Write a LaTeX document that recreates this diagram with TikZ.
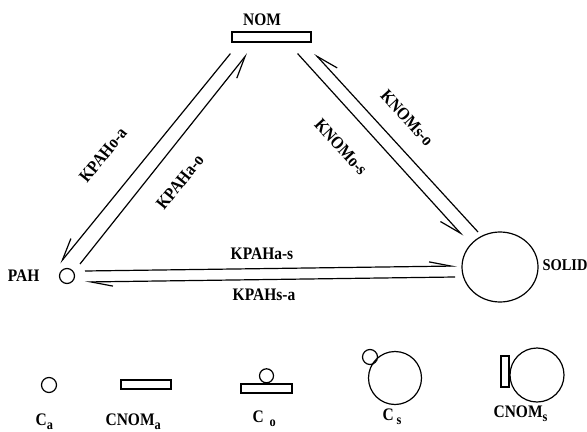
\documentclass[tikz,border=0pt]{standalone}
\usepackage{fontspec}
\setmainfont{Liberation Serif}
\newfontfamily\lblfont[FakeStretch=0.88]{Liberation Serif}
\usetikzlibrary{arrows.meta,shapes.geometric}

\newcommand\lsub[1]{\raisebox{-0.55ex}{\fontsize{7}{8}\selectfont #1}}

\begin{document}
\begin{tikzpicture}[x=0.5pt,y=-0.5pt,line width=0.6pt,
  lbl/.style={font=\lblfont\bfseries\fontsize{8.8}{10}\selectfont,inner sep=0pt},
  ball/.style={draw,circle,inner sep=0pt,minimum size=#1},
  bar/.style 2 args={draw,rectangle,inner sep=0pt,minimum width=#1,minimum height=#2},
  hr/.style={-{Straight Barb[right,length=11pt,width=7pt]}},
  hl/.style={-{Straight Barb[left,length=11pt,width=4.5pt]}}]
\useasboundingbox (0,0) rectangle (587,432);

% compartments
\node[bar={39.5pt}{5pt}] (nom) at (271.5,37) {};
\node[lbl] (nomlbl) at (262,20) {NOM};
\node[ball=7.5pt] (pah) at (67,276) {};
\node[lbl,anchor=east] (pahlbl) at (40,276) {PAH};
\node[draw,ellipse,inner sep=0pt,minimum width=38pt,minimum height=35pt] (solid) at (500,267) {};
\node[lbl,font=\lblfont\bfseries\fontsize{8.2}{10}\selectfont,anchor=west] (solidlbl) at (542,265) {SOLID};

% exchanges
\draw[hr] ([shift={(-1,11)}]nom.south west) -- ([shift={(-7,-13)}]pah.center);
\draw[hr] ([shift={(13,-12)}]pah.center) -- ([shift={(16,11)}]nom.south west);
\draw[hr] ([shift={(-14,11)}]nom.south east) -- ([shift={(-37,-31)}]solid.center);
\draw[hr] ([shift={(-22,-35)}]solid.center) -- ([shift={(3,11)}]nom.south east);
\draw[hl] ([shift={(18,-5)}]pah.center) -- ([shift={(-43,-1)}]solid.center);
\draw[hl] ([shift={(-45,10)}]solid.center) -- ([shift={(18,6)}]pah.center);

\node[lbl,rotate=51] (kpahoa) at (103,155) {KPAHo-a};
\node[lbl,rotate=51] (kpahao) at (180,182) {KPAHa-o};
\node[lbl,rotate=-47.5] (knomso) at (407,118) {KNOMs-o};
\node[lbl,rotate=-47.5] (knomos) at (341,147) {KNOMo-s};
\node[lbl] (kpahas) at (262,254) {KPAHa-s};
\node[lbl] (kpahsa) at (264,295) {KPAHs-a};

% legend
\node[ball=7.5pt] (ca) at (49,385) {};
\node[bar={25pt}{4.5pt}] (cnoma) at (146,384.5) {};
\node[bar={25.5pt}{4.5pt}] (co) at (266.5,388.5) {};
\node[ball=7pt,anchor=south] (cop) at (co.north) {};
\node[ball=26.5pt] (cs) at (395,378) {};
\node[ball=7.5pt] (csp) at (370,357) {};
\node[bar={4pt}{15.5pt}] (cnomsbar) at (505,371.5) {};
\node[ball=27pt] (cnoms) at (537,375) {};

\node[lbl,anchor=base west] (calbl) at (35,425) {C\lsub{a}};
\node[lbl,anchor=base west] (cnomalbl) at (105,425) {CNOM\lsub{a}};
\node[lbl,anchor=base west] (colbl) at (252,422) {C\,\,\lsub{o}};
\node[lbl,anchor=base west] (cslbl) at (382,420) {C\,\lsub{s}};
\node[lbl,anchor=base west] (cnomslbl) at (493,417) {CNOM\lsub{s}};
\end{tikzpicture}
\end{document}
